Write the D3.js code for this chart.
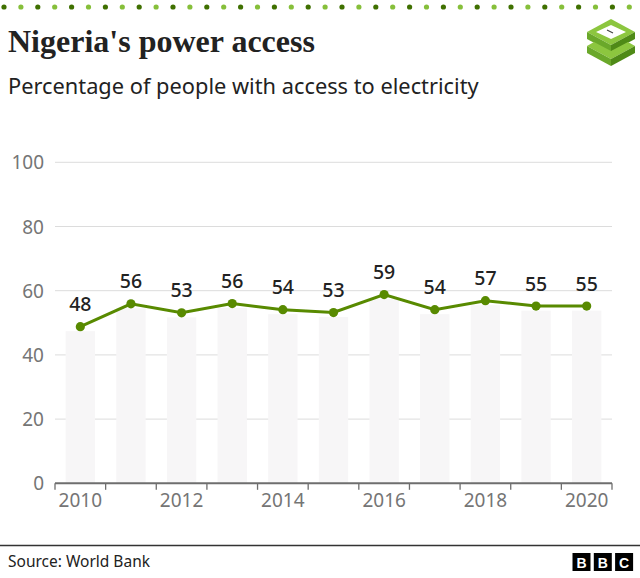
<!DOCTYPE html>
<html>
<head>
<meta charset="utf-8">
<script src="https://cdn.jsdelivr.net/npm/d3@7"></script>
<style>
  body { margin: 0; background: #fff; }
  svg { display: block; }
</style>
</head>
<body>
<div id="chart"></div>
<script>
// data
var years = [2010, 2011, 2012, 2013, 2014, 2015, 2016, 2017, 2018, 2019, 2020];
var access = [48.8, 55.9, 53.1, 56.0, 54.1, 53.2, 58.8, 54.1, 56.9, 55.2, 55.2];
var valueLabels = ["48", "56", "53", "56", "54", "53", "59", "54", "57", "55", "55"];
var yTicks = [0, 20, 40, 60, 80, 100];
var xTickLabels = [2010, 2012, 2014, 2016, 2018, 2020];

var width = 640, height = 578;
var sans = "'Noto Sans', 'Open Sans', sans-serif";

var svg = d3.select("#chart")
    .append("svg")
    .attr("width", width)
    .attr("height", height);

// top dotted strip
var dots = d3.range(38);
svg.append("g").selectAll("circle")
    .data(dots).enter()
    .append("circle")
    .attr("cx", d => 4 + d * 16.9)
    .attr("cy", 7)
    .attr("r", 2.6)
    .attr("fill", (d, i) => i % 2 === 0 ? "#3f7000" : "#86bf3a");

// title + subtitle
svg.append("text")
    .attr("x", 8).attr("y", 52)
    .style("font-family", "'Liberation Serif', 'DejaVu Serif', serif")
    .style("font-weight", "bold")
    .style("font-size", "32px")
    .style("fill", "#222")
    .text("Nigeria's power access");

svg.append("text")
    .attr("x", 8).attr("y", 94)
    .style("font-family", sans)
    .style("font-size", "21.8px")
    .style("fill", "#222")
    .text("Percentage of people with access to electricity");

// little green logo top right
var logo = svg.append("g");
var shapes = [
    {pts: [[611,19],[635,32],[611,45],[587,32]], fill: "#8cc63f"},
    {pts: [[611,25],[626,32],[611,39],[596,32]], fill: "#ffffff"},
    {pts: [[587,32],[611,45],[611,52],[587,39]], fill: "#6aa82a"},
    {pts: [[611,45],[635,32],[635,39],[611,52]], fill: "#4f8a17"},
    {pts: [[587,46],[594,42],[611,51],[628,42],[635,46],[611,59]], fill: "#8cc63f"},
    {pts: [[587,46],[611,59],[611,66],[587,53]], fill: "#6aa82a"},
    {pts: [[611,59],[635,46],[635,53],[611,66]], fill: "#4f8a17"}
];
logo.selectAll("polygon")
    .data(shapes).enter()
    .append("polygon")
    .attr("points", d => d.pts.map(p => p.join(",")).join(" "))
    .attr("fill", d => d.fill);
logo.append("line")
    .attr("x1", 607).attr("y1", 30).attr("x2", 613).attr("y2", 33)
    .attr("stroke", "#444").attr("stroke-width", 1.2);

// scales
var x = d3.scaleBand()
    .domain(years)
    .range([55, 612])
    .padding(0);

var y = d3.scaleLinear()
    .domain([0, 100])
    .range([483.3, 162.3]);

var bw = x.bandwidth();

// gridlines
svg.append("g").selectAll("line")
    .data(yTicks.filter(d => d > 0)).enter()
    .append("line")
    .attr("x1", 55).attr("x2", 612)
    .attr("y1", d => y(d)).attr("y2", d => y(d))
    .attr("stroke", "#dcdcdc")
    .attr("stroke-width", 1);

// y labels
svg.append("g").selectAll("text")
    .data(yTicks).enter()
    .append("text")
    .attr("x", 44)
    .attr("y", d => y(d) + 7)
    .attr("text-anchor", "end")
    .style("font-family", sans)
    .style("font-size", "19px")
    .style("fill", "#757575")
    .text(d => d);

// light background bars
svg.append("g").selectAll("rect")
    .data(years).enter()
    .append("rect")
    .attr("x", d => x(d) + bw * 0.21)
    .attr("width", bw * 0.58)
    .attr("y", (d, i) => y(access[i]) + 4.5)
    .attr("height", (d, i) => y(0) - y(access[i]) - 4.5)
    .attr("fill", "#f7f6f7");

// x axis
var xAxis = svg.append("g");
xAxis.append("line")
    .attr("x1", 55).attr("x2", 612)
    .attr("y1", y(0)).attr("y2", y(0))
    .attr("stroke", "#6e6e6e")
    .attr("stroke-width", 2);
xAxis.selectAll(".tick")
    .data(years.concat([null])).enter()
    .append("line")
    .attr("class", "tick")
    .attr("x1", d => d === null ? 612 : x(d))
    .attr("x2", d => d === null ? 612 : x(d))
    .attr("y1", y(0)).attr("y2", y(0) + 6.5)
    .attr("stroke", "#6e6e6e")
    .attr("stroke-width", 1.3);
xAxis.selectAll("text")
    .data(xTickLabels).enter()
    .append("text")
    .attr("x", d => x(d) + bw / 2)
    .attr("y", 506.5)
    .attr("text-anchor", "middle")
    .style("font-family", sans)
    .style("font-size", "19px")
    .style("fill", "#757575")
    .text(d => d);

// line + points
var line = d3.line()
    .x((d, i) => x(years[i]) + bw / 2)
    .y(d => y(d));

svg.append("path")
    .datum(access)
    .attr("d", line)
    .attr("fill", "none")
    .attr("stroke", "#588a00")
    .attr("stroke-width", 3);

svg.append("g").selectAll("circle")
    .data(access).enter()
    .append("circle")
    .attr("cx", (d, i) => x(years[i]) + bw / 2)
    .attr("cy", d => y(d))
    .attr("r", 4.6)
    .attr("fill", "#588a00");

svg.append("g").selectAll("text")
    .data(access).enter()
    .append("text")
    .attr("x", (d, i) => x(years[i]) + bw / 2)
    .attr("y", d => y(d) - 15.5)
    .attr("text-anchor", "middle")
    .style("font-family", sans)
    .style("font-weight", 500)
    .style("font-size", "19.5px")
    .style("fill", "#222")
    .text((d, i) => valueLabels[i]);

// footer
svg.append("line")
    .attr("x1", 0).attr("x2", width)
    .attr("y1", 545.5).attr("y2", 545.5)
    .attr("stroke", "#333")
    .attr("stroke-width", 1.3);

svg.append("text")
    .attr("x", 8).attr("y", 567)
    .style("font-family", sans)
    .style("font-size", "15.5px")
    .style("fill", "#222")
    .text("Source: World Bank");

var bbc = svg.append("g");
bbc.selectAll("rect")
    .data(["B", "B", "C"]).enter()
    .append("rect")
    .attr("x", (d, i) => 572.5 + i * 21.3)
    .attr("y", 553)
    .attr("width", 18)
    .attr("height", 18)
    .attr("fill", "#000");
bbc.selectAll("text")
    .data(["B", "B", "C"]).enter()
    .append("text")
    .attr("x", (d, i) => 581.5 + i * 21.3)
    .attr("y", 567.5)
    .attr("text-anchor", "middle")
    .style("font-family", "'Liberation Sans', Arial, sans-serif")
    .style("font-weight", "bold")
    .style("font-size", "14px")
    .style("fill", "#fff")
    .text(d => d);
</script>
</body>
</html>
